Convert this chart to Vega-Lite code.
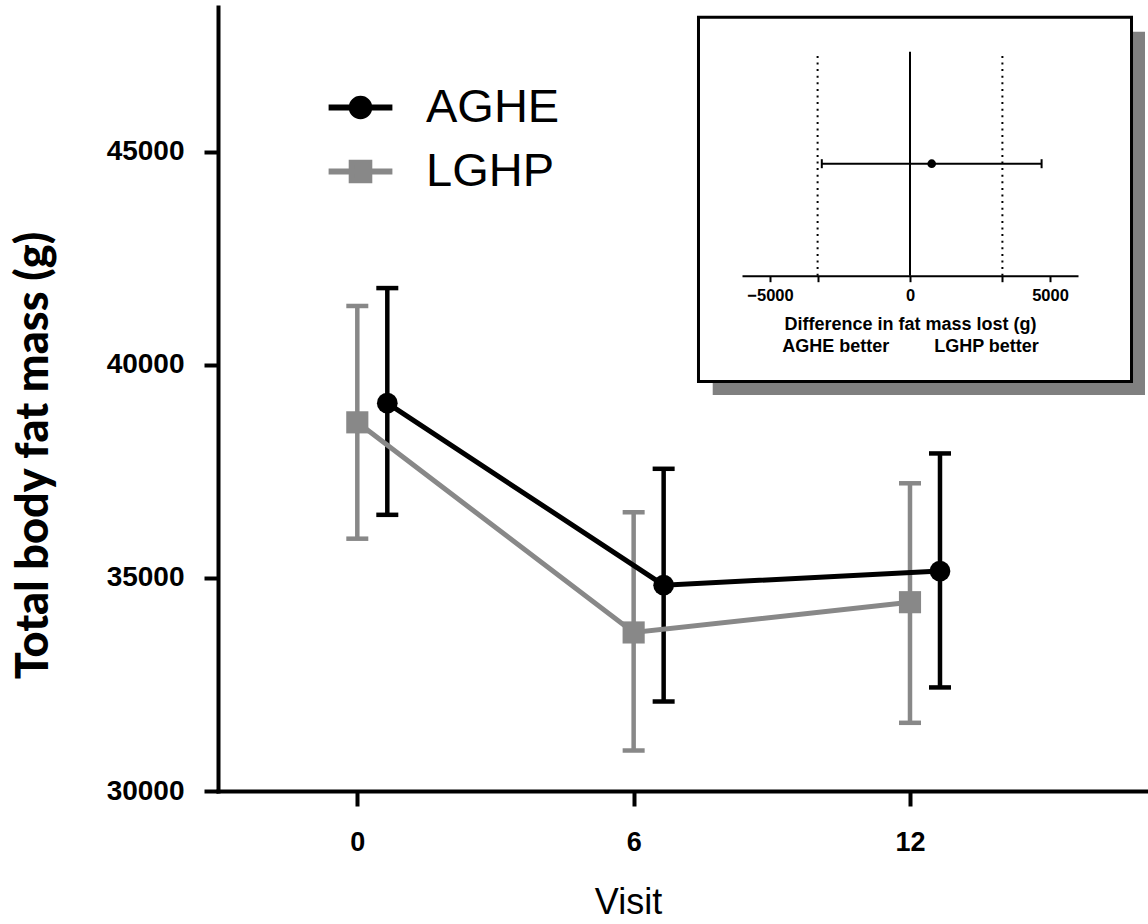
{
  "$schema": "https://vega.github.io/schema/vega-lite/v6.json",
  "width": 930,
  "height": 784,
  "autosize": {"type": "none"},
  "padding": {"left": 218, "top": 7, "right": 0, "bottom": 133},
  "background": "white",
  "config": {"view": {"stroke": null}, "font": "Liberation Sans"},
  "datasets": {
    "fatmass": [
      {"visit": 0, "group": "AGHE", "mean": 39100, "lower": 36480, "upper": 41800},
      {"visit": 6, "group": "AGHE", "mean": 34830, "lower": 32100, "upper": 37560},
      {"visit": 12, "group": "AGHE", "mean": 35160, "lower": 32430, "upper": 37920},
      {"visit": 0, "group": "LGHP", "mean": 38650, "lower": 35920, "upper": 41380},
      {"visit": 6, "group": "LGHP", "mean": 33720, "lower": 30950, "upper": 36540},
      {"visit": 12, "group": "LGHP", "mean": 34430, "lower": 31600, "upper": 37220}
    ],
    "difference": [
      {"comparison": "Difference in fat mass lost", "estimate": 775, "lower": -3150, "upper": 4700}
    ],
    "margins": [
      {"margin": -3300},
      {"margin": 3300}
    ]
  },
  "resolve": {"scale": {"x": "independent", "y": "independent"}, "axis": {"x": "independent", "y": "independent"}},
  "layer": [
    {
      "data": {"name": "fatmass"},
      "encoding": {
        "x": {
          "field": "visit", "type": "ordinal",
          "scale": {"type": "point", "domain": [0, 6, 12], "padding": 0.6827, "align": 0.3692},
          "axis": {
            "title": "Visit", "labelAngle": 0,
            "titleFont": "Liberation Sans", "titleFontSize": 36, "titleFontWeight": "normal", "titleColor": "black",
            "titleX": 410, "titleY": 122, "titleBaseline": "alphabetic",
            "labelFont": "Liberation Sans", "labelFontSize": 27, "labelFontWeight": "bold", "labelColor": "black",
            "labelPadding": 23, "labelFlush": false, "labelOverlap": false,
            "tickSize": 15, "tickWidth": 4, "tickColor": "black",
            "domainColor": "black", "domainWidth": 4, "domainCap": "square", "grid": false
          }
        },
        "xOffset": {"field": "group", "type": "nominal", "scale": {"type": "point", "domain": ["LGHP", "AGHE"], "range": [0, 30], "padding": 0}},
        "color": {
          "field": "group", "type": "nominal",
          "scale": {"domain": ["LGHP", "AGHE"], "range": ["#888888", "#000000"]},
          "legend": null
        }
      },
      "layer": [
        {
          "mark": {"type": "rule", "strokeWidth": 4.5},
          "encoding": {
            "y": {
              "field": "lower", "type": "quantitative",
              "scale": {"domain": [30000, 48395], "nice": false, "zero": false},
              "axis": {
                "values": [30000, 35000, 40000, 45000], "format": "d",
                "title": "Total body fat mass (g)",
                "titleFont": "Lato", "titleFontSize": 45, "titleFontWeight": 900, "titleColor": "black",
                "titleX": -171, "titleY": 448, "titleBaseline": "alphabetic", "titleAngle": 270, "titleAlign": "center",
                "labelFont": "Liberation Sans", "labelFontSize": 28, "labelFontWeight": "bold", "labelColor": "black",
                "labelPadding": 20, "labelFlush": false,
                "tickSize": 14, "tickWidth": 4, "tickColor": "black",
                "domainColor": "black", "domainWidth": 4, "domainCap": "square", "grid": false
              }
            },
            "y2": {"field": "upper"}
          }
        },
        {
          "mark": {"type": "tick", "orient": "horizontal", "size": 22, "thickness": 4.5, "opacity": 1},
          "encoding": {"y": {"field": "upper", "type": "quantitative"}}
        },
        {
          "mark": {"type": "tick", "orient": "horizontal", "size": 22, "thickness": 4.5, "opacity": 1},
          "encoding": {"y": {"field": "lower", "type": "quantitative"}}
        },
        {
          "mark": {"type": "line", "strokeWidth": 5},
          "encoding": {"y": {"field": "mean", "type": "quantitative"}}
        },
        {
          "transform": [{"filter": "datum.group === 'AGHE'"}],
          "mark": {"type": "point", "shape": "circle", "filled": true, "opacity": 1, "size": 430, "strokeWidth": 0},
          "encoding": {"y": {"field": "mean", "type": "quantitative"}}
        },
        {
          "transform": [{"filter": "datum.group === 'LGHP'"}],
          "mark": {"type": "point", "shape": "square", "filled": true, "opacity": 1, "size": 490, "strokeWidth": 0},
          "encoding": {"y": {"field": "mean", "type": "quantitative"}}
        },
        {
          "mark": {"type": "point", "opacity": 0, "filled": false},
          "encoding": {
            "y": {"field": "mean", "type": "quantitative"},
            "fill": {
              "field": "group", "type": "nominal",
              "scale": {"domain": ["AGHE", "LGHP"], "range": ["#000000", "#888888"]},
              "legend": {
                "orient": "none", "legendX": 119, "legendY": 77, "title": null, "padding": 0,
                "symbolSize": 484, "symbolStrokeWidth": 6, "symbolOpacity": 1,
                "labelFont": "Liberation Sans", "labelFontSize": 47, "labelColor": "black", "labelOffset": 42, "labelLimit": 0,
                "rowPadding": 16
              }
            },
            "stroke": {
              "field": "group", "type": "nominal",
              "scale": {"domain": ["AGHE", "LGHP"], "range": ["#000000", "#888888"]},
              "legend": {
                "orient": "none", "legendX": 119, "legendY": 77, "title": null, "padding": 0,
                "symbolSize": 484, "symbolStrokeWidth": 6, "symbolOpacity": 1,
                "labelFont": "Liberation Sans", "labelFontSize": 47, "labelColor": "black", "labelOffset": 42, "labelLimit": 0,
                "rowPadding": 16
              }
            },
            "shape": {
              "field": "group", "type": "nominal",
              "scale": {"domain": ["AGHE", "LGHP"], "range": ["M-2.9,0H2.9M0.8,0A0.8,0.8,0,1,1,-0.8,0A0.8,0.8,0,1,1,0.8,0Z", "M-2.9,0H2.9M-0.8,-0.8H0.8V0.8H-0.8Z"]},
              "legend": {
                "orient": "none", "legendX": 119, "legendY": 77, "title": null, "padding": 0,
                "symbolSize": 484, "symbolStrokeWidth": 6, "symbolOpacity": 1,
                "labelFont": "Liberation Sans", "labelFontSize": 47, "labelColor": "black", "labelOffset": 42, "labelLimit": 0,
                "rowPadding": 16
              }
            }
          }
        }
      ]
    },
    {
      "data": {"name": "difference"},
      "layer": [
        {
          "mark": {"type": "rect", "fill": "#808080"},
          "encoding": {
            "x": {
              "datum": -7046, "type": "quantitative",
              "scale": {"domain": [-6000, 6000], "range": [524, 860], "nice": false, "zero": false},
              "axis": {
                "orient": "bottom", "offset": -515.3,
                "values": [-5000, -3300, 0, 3300, 5000], "format": "d",
                "labelExpr": "abs(datum.value) == 3300 ? '' : datum.label",
                "title": ["Difference in fat mass lost (g)", "AGHE better\u00a0\u00a0\u00a0\u00a0\u00a0\u00a0\u00a0\u00a0\u00a0LGHP better"],
                "titleFont": "Liberation Sans", "titleFontSize": 18, "titleFontWeight": "bold", "titleColor": "black",
                "titleLineHeight": 22.4, "titleBaseline": "alphabetic", "titleY": 53.6,
                "labelFont": "Liberation Sans", "labelFontSize": 16.5, "labelFontWeight": "bold", "labelColor": "black",
                "labelPadding": 6, "labelFlush": false, "labelOverlap": false,
                "tickSize": 6, "tickWidth": 2, "tickColor": "black",
                "domainColor": "black", "domainWidth": 2, "grid": false, "zindex": 1
              }
            },
            "x2": {"datum": 8393},
            "y": {
              "datum": 1.089, "type": "quantitative",
              "scale": {"domain": [0, 1], "range": [268.7, 44.7], "nice": false, "zero": false},
              "axis": null
            },
            "y2": {"datum": -0.533}
          }
        },
        {
          "mark": {"type": "rect", "fill": "white", "stroke": "black", "strokeWidth": 3},
          "encoding": {
            "x": {"datum": -7554, "type": "quantitative"},
            "x2": {"datum": 7911},
            "y": {"datum": 1.154, "type": "quantitative"},
            "y2": {"datum": -0.472}
          }
        },
        {
          "mark": {"type": "rule", "color": "black", "strokeWidth": 2},
          "encoding": {
            "x": {"datum": 0, "type": "quantitative"},
            "y": {"datum": 0, "type": "quantitative"},
            "y2": {"datum": 1}
          }
        },
        {
          "data": {"name": "margins"},
          "mark": {"type": "rule", "color": "black", "strokeWidth": 2, "strokeDash": [2, 4.6]},
          "encoding": {
            "x": {"field": "margin", "type": "quantitative"},
            "y": {"datum": 0, "type": "quantitative"},
            "y2": {"datum": 1}
          }
        },
        {
          "mark": {"type": "rule", "color": "black", "strokeWidth": 2},
          "encoding": {
            "x": {"field": "lower", "type": "quantitative"},
            "x2": {"field": "upper"},
            "y": {"datum": 0.5, "type": "quantitative"}
          }
        },
        {
          "mark": {"type": "tick", "orient": "vertical", "color": "black", "size": 9, "thickness": 2, "opacity": 1},
          "encoding": {
            "x": {"field": "lower", "type": "quantitative"},
            "y": {"datum": 0.5, "type": "quantitative"}
          }
        },
        {
          "mark": {"type": "tick", "orient": "vertical", "color": "black", "size": 9, "thickness": 2, "opacity": 1},
          "encoding": {
            "x": {"field": "upper", "type": "quantitative"},
            "y": {"datum": 0.5, "type": "quantitative"}
          }
        },
        {
          "mark": {"type": "point", "filled": true, "color": "black", "opacity": 1, "size": 75},
          "encoding": {
            "x": {"field": "estimate", "type": "quantitative"},
            "y": {"datum": 0.5, "type": "quantitative"}
          }
        }
      ]
    }
  ]
}
